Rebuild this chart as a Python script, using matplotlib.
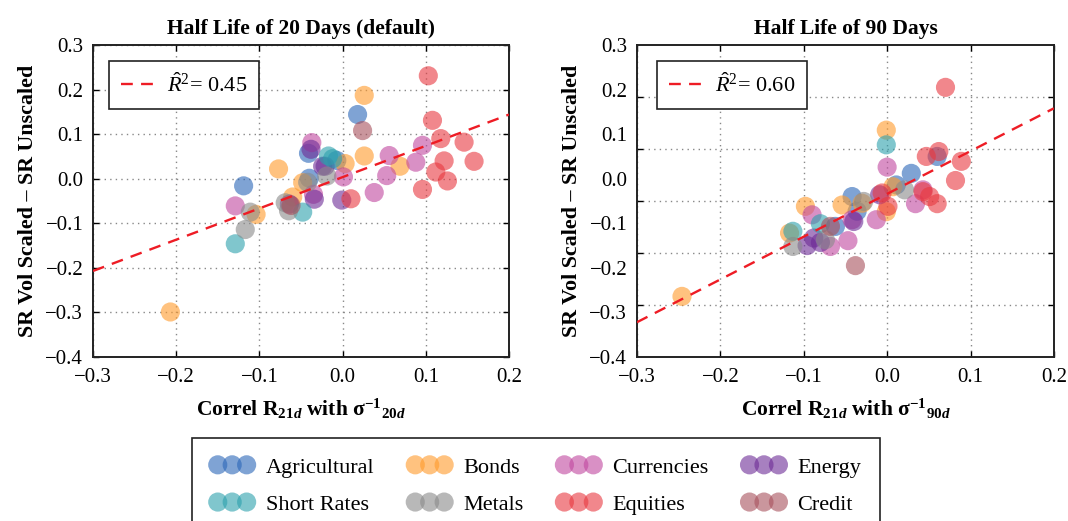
import numpy as np
import matplotlib
matplotlib.use("Agg")
import matplotlib.pyplot as plt
from matplotlib.lines import Line2D

plt.rcParams["font.family"] = ["Liberation Serif", "DejaVu Serif"]
plt.rcParams["mathtext.fontset"] = "custom"
plt.rcParams["mathtext.rm"] = "Liberation Serif"
plt.rcParams["mathtext.it"] = "Liberation Serif:italic"
plt.rcParams["mathtext.bf"] = "Liberation Serif:bold"
plt.rcParams["mathtext.bfit"] = "Liberation Serif:bold:italic"
plt.rcParams["axes.unicode_minus"] = True

# ---------------------------------------------------------------- categories
categories = ["Agricultural", "Bonds", "Currencies", "Energy",
              "Short Rates", "Metals", "Equities", "Credit"]
colors = ["#2a66b8", "#ff9a2a", "#c0479f", "#6d2b96",
          "#2ba0ad", "#8a8a8a", "#e8383f", "#a8505c"]

# ------------------------------------------------ half life of 20 days (x, y)
agr_20_x = [0.018, -0.041, -0.119, -0.007, -0.040]
agr_20_y = [0.144, 0.057, -0.016, 0.041, 0.001]
bnd_20_x = [0.026, 0.026, 0.003, 0.069, -0.077, -0.048, -0.104, -0.207, -0.060]
bnd_20_y = [0.187, 0.051, 0.034, 0.028, 0.022, -0.009, -0.080, -0.299, -0.041]
cur_20_x = [-0.037, 0.096, 0.056, 0.088, 0.053, 0.001, 0.038, -0.129, -0.035]
cur_20_y = [0.081, 0.075, 0.052, 0.037, 0.007, 0.004, -0.031, -0.061, -0.035]
eng_20_x = [-0.038, -0.024, -0.034, -0.064, -0.001, -0.021]
eng_20_y = [0.066, 0.028, -0.046, -0.057, -0.048, 0.028]
srt_20_x = [-0.017, -0.129, -0.048, -0.012]
srt_20_y = [0.051, -0.146, -0.075, 0.045]
met_20_x = [-0.111, -0.117, -0.019, -0.069, -0.065, -0.042]
met_20_y = [-0.075, -0.114, 0.006, -0.054, -0.072, -0.008]
eqt_20_x = [0.103, 0.108, 0.118, 0.146, 0.158, 0.122, 0.112, 0.126, 0.096, 0.010]
eqt_20_y = [0.231, 0.131, 0.090, 0.082, 0.039, 0.040, 0.015, -0.005, -0.024, -0.045]
crd_20_x = [0.024, -0.062]
crd_20_y = [0.108, -0.060]

# ------------------------------------------------ half life of 90 days (x, y)
agr_90_x = [0.029, 0.060, -0.042, -0.036, -0.062, 0.011]
agr_90_y = [0.012, 0.050, -0.040, -0.073, -0.107, -0.014]
bnd_90_x = [-0.001, -0.246, -0.098, -0.054, -0.117, 0.007, -0.001, -0.030]
bnd_90_y = [0.109, -0.264, -0.062, -0.059, -0.122, -0.018, -0.074, -0.055]
cur_90_x = [0.000, -0.090, -0.013, 0.034, -0.047, -0.068, 0.043, -0.042]
cur_90_y = [0.026, -0.081, -0.092, -0.056, -0.139, -0.152, -0.025, -0.092]
eng_90_x = [-0.009, -0.040, -0.096, -0.080, -0.088]
eng_90_y = [-0.036, -0.096, -0.150, -0.143, -0.133]
srt_90_x = [-0.001, -0.113, -0.080]
srt_90_y = [0.076, -0.118, -0.101]
met_90_x = [-0.113, 0.021, -0.028, -0.074]
met_90_y = [-0.152, -0.025, -0.051, -0.137]
eqt_90_x = [0.070, 0.062, 0.047, 0.089, 0.082, 0.043, 0.051, 0.060, 0.001, -0.006]
eqt_90_y = [0.205, 0.061, 0.050, 0.039, -0.004, -0.029, -0.040, -0.056, -0.062, -0.032]
crd_90_x = [-0.038, -0.068]
crd_90_y = [-0.195, -0.107]

# ------------------------------------------------------- regression fits
fit_20_slope, fit_20_intercept, r2_20 = 0.702, 0.0036, 0.45
fit_90_slope, fit_90_intercept, r2_90 = 0.960, -0.034, 0.60

# ------------------------------------------------------------ axis ticks
x_ticks = [-0.3, -0.2, -0.1, 0.0, 0.1, 0.2]
y_ticks = [-0.4, -0.3, -0.2, -0.1, 0.0, 0.1, 0.2, 0.3]

panel_20 = [(agr_20_x, agr_20_y), (bnd_20_x, bnd_20_y), (cur_20_x, cur_20_y),
            (eng_20_x, eng_20_y), (srt_20_x, srt_20_y), (met_20_x, met_20_y),
            (eqt_20_x, eqt_20_y), (crd_20_x, crd_20_y)]
panel_90 = [(agr_90_x, agr_90_y), (bnd_90_x, bnd_90_y), (cur_90_x, cur_90_y),
            (eng_90_x, eng_90_y), (srt_90_x, srt_90_y), (met_90_x, met_90_y),
            (eqt_90_x, eqt_90_y), (crd_90_x, crd_90_y)]

fig = plt.figure(figsize=(10.68, 5.21), dpi=100)
ax1 = fig.add_axes([0.0871, 0.3148, 0.3895, 0.5988])
ax2 = fig.add_axes([0.5964, 0.3148, 0.3904, 0.5988])

TICK_FS = 15
LABEL_FS = 15.8


def fmt(v):
    return f"{v:.1f}".replace("-", "\u2212")


def draw_panel(ax, series, slope, intercept, r2, title, xlabel,
               legend_x, shifted_grid=False):
    handles = []
    for (xs, ys), col, name in zip(series, colors, categories):
        h = ax.scatter(xs, ys, s=190, color=col, alpha=0.6,
                       edgecolors="none", zorder=3, label=name)
        handles.append(h)
    xx = np.array([-0.3, 0.2])
    ax.plot(xx, intercept + slope * xx, color="#ee1c25", lw=1.7,
            dashes=(5, 3.5), zorder=4)

    ax.set_xlim(-0.3, 0.2)
    ax.set_ylim(-0.4, 0.3)
    ax.set_xticks(x_ticks)
    ax.set_xticklabels([fmt(v) for v in x_ticks])
    ax.set_yticks(y_ticks)
    ax.set_yticklabels([fmt(v) for v in y_ticks])
    ax.tick_params(axis="both", which="both", direction="in", width=1.0,
                   top=True, right=True, labelsize=TICK_FS)
    ax.tick_params(axis="y", which="major", pad=7, length=4)
    ax.tick_params(axis="x", which="major", pad=8, length=4)
    grid_kw = dict(linestyle=(0, (1, 3)), color="#888888", lw=1.0)
    if shifted_grid:
        # value labels every 0.1, grid and tick marks split into six bands
        ax.tick_params(axis="y", which="major", length=0)
        ax.set_yticks(np.linspace(-0.4, 0.3, 7), minor=True)
        ax.tick_params(axis="y", which="minor", length=4)
        ax.yaxis.grid(True, which="minor", **grid_kw)
        ax.xaxis.grid(True, which="major", **grid_kw)
    else:
        ax.grid(True, which="major", **grid_kw)
    ax.set_axisbelow(True)
    for sp in ax.spines.values():
        sp.set_linewidth(1.4)
        sp.set_color("#222222")

    ax.set_title(title, fontsize=15.5, fontweight="bold", pad=8)
    ax.set_xlabel(xlabel, fontsize=15.5, fontweight="bold", labelpad=7)
    ax.set_ylabel("SR Vol Scaled \u2013 SR Unscaled", fontsize=LABEL_FS,
                  fontweight="bold", labelpad=5)

    proxy = Line2D([], [], color="#ee1c25", lw=1.7, dashes=(5, 3.5))
    leg = ax.legend([proxy], [r"$\hat{R}^{2}$= " + f"{r2:.2f}"],
                    loc="upper left", bbox_to_anchor=(legend_x, 0.949),
                    borderaxespad=0, fontsize=16, handlelength=1.65,
                    frameon=True, fancybox=False, edgecolor="#222222",
                    framealpha=1, borderpad=0.55, handletextpad=0.4)
    leg.get_frame().set_linewidth(1.2)
    leg.set_zorder(6)
    return handles


handles = draw_panel(ax1, panel_20, fit_20_slope, fit_20_intercept, r2_20,
                     "Half Life of 20 Days (default)",
                     r"Correl R$_{\mathbf{21}\mathbfit{d}}$ with "
                     r"$\mathbf{\sigma}^{\mathbf{-1}}{}_{\mathbf{20}\mathbfit{d}}$",
                     0.0385)
draw_panel(ax2, panel_90, fit_90_slope, fit_90_intercept, r2_90,
           "Half Life of 90 Days",
           r"Correl R$_{\mathbf{21}\mathbfit{d}}$ with "
           r"$\mathbf{\sigma}^{\mathbf{-1}}{}_{\mathbf{90}\mathbfit{d}}$",
           0.048, shifted_grid=True)

# legend fills column-wise: reorder so rows read across
order = [0, 4, 1, 5, 2, 6, 3, 7]
fleg = fig.legend([handles[i] for i in order], [categories[i] for i in order],
                  ncol=4, loc="upper center", bbox_to_anchor=(0.502, 0.159),
                  borderaxespad=0, fontsize=16, frameon=True, fancybox=False,
                  edgecolor="#222222", framealpha=1, scatterpoints=3,
                  scatteryoffsets=[0.5], handlelength=1.9,
                  columnspacing=1.55, labelspacing=0.75, borderpad=0.85,
                  handletextpad=0.55)
fleg.get_frame().set_linewidth(1.2)

fig.savefig("out.png", dpi=100)
